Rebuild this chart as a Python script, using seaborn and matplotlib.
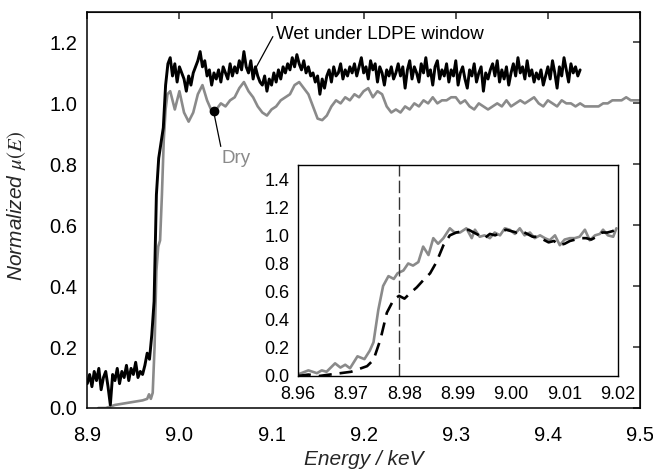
import numpy as np
import pandas as pd
import matplotlib
matplotlib.use("Agg")
import matplotlib.pyplot as plt
import seaborn as sns

# ---------------- data ----------------
# Wet under LDPE window (main panel), regular grid
wet_E0 = 8.900
wet_step = 0.0025
wet_mu = [
    0.08, 0.11, 0.07, 0.12, 0.09, 0.13, 0.06, 0.10, 0.12, 0.07,
    0.01, 0.11, 0.09, 0.13, 0.08, 0.12, 0.10, 0.14, 0.09, 0.13,
    0.11, 0.15, 0.10, 0.12, 0.11, 0.14, 0.18, 0.16,
    0.24, 0.35, 0.70, 0.82, 0.87, 0.92, 1.06, 1.13,
    1.15, 1.09, 1.13, 1.07, 1.12, 1.10, 1.08, 1.04, 1.09, 1.06, 1.10, 1.12, 1.14, 1.17, 1.12, 1.14, 1.09, 1.11, 1.06, 1.10,
    1.08, 1.11, 1.07, 1.12, 1.10, 1.08, 1.13, 1.09, 1.12, 1.10, 1.14, 1.11, 1.17, 1.12, 1.10, 1.14, 1.08, 1.12, 1.09, 1.07,
    1.06, 1.09, 1.04, 1.08, 1.06, 1.10, 1.07, 1.11, 1.08, 1.12, 1.10, 1.13, 1.11, 1.15, 1.12, 1.16, 1.13, 1.11, 1.14, 1.10,
    1.12, 1.09, 1.10, 1.07, 1.09, 1.03, 1.08, 1.05, 1.09, 1.11, 1.07, 1.12, 1.09, 1.10, 1.13, 1.08, 1.11, 1.09, 1.12, 1.10,
    1.13, 1.09, 1.12, 1.15, 1.10, 1.12, 1.08, 1.14, 1.11, 1.13, 1.07, 1.12, 1.10, 1.06, 1.11, 1.09, 1.12, 1.08, 1.10, 1.13,
    1.09, 1.12, 1.05, 1.11, 1.14, 1.08, 1.12, 1.10, 1.07, 1.13, 1.10, 1.15, 1.09, 1.11, 1.06, 1.12, 1.14, 1.08, 1.11, 1.09,
    1.13, 1.07, 1.11, 1.09, 1.14, 1.06, 1.10, 1.12, 1.08, 1.05, 1.11, 1.09, 1.13, 1.07, 1.10, 1.12, 1.04, 1.10, 1.08, 1.11,
    1.13, 1.09, 1.14, 1.07, 1.11, 1.08, 1.12, 1.06, 1.10, 1.13, 1.09, 1.15, 1.10, 1.12, 1.08, 1.14, 1.09, 1.11, 1.07, 1.10,
    1.08, 1.11, 1.06, 1.09, 1.12, 1.08, 1.14, 1.10, 1.05, 1.12, 1.09, 1.15, 1.11, 1.07, 1.13, 1.10, 1.12, 1.09, 1.11,
]

# Dry (main panel): edge region at explicit energies, then regular grid
dry_edge_E = [8.912, 8.920, 8.930, 8.940, 8.950, 8.960, 8.965, 8.967, 8.969, 8.971,
              8.973, 8.975, 8.977, 8.979, 8.981, 8.983, 8.985, 8.987]
dry_edge_mu = [0.00, 0.00, 0.01, 0.015, 0.02, 0.025, 0.03, 0.045, 0.03, 0.05,
               0.20, 0.45, 0.53, 0.55, 0.70, 0.88, 0.98, 1.03]
dry_post_E0 = 8.990
dry_post_step = 0.005
dry_post_mu = [
    1.04, 0.98, 1.04, 0.97, 0.94, 0.97, 1.03, 1.06, 1.01, 0.975,
    0.98, 1.00, 0.99, 1.01, 1.02, 1.05, 1.07, 1.04, 1.02, 0.99,
    0.97, 0.96, 0.98, 0.99, 1.01, 1.02, 1.03, 1.06, 1.07, 1.05,
    1.03, 0.99, 0.95, 0.945, 0.96, 0.99, 1.01, 1.00, 1.02, 1.01,
    1.03, 1.02, 1.04, 1.05, 1.02, 1.04, 1.03, 0.99, 0.97, 0.98,
    0.97, 0.99, 0.98, 1.00, 0.99, 1.01, 1.00, 1.02, 1.00, 1.01,
    1.01, 1.02, 1.02, 1.00, 1.01, 0.99, 0.98, 1.00, 0.99, 0.98,
    0.99, 1.00, 0.99, 1.01, 0.99, 1.00, 1.01, 1.00, 1.01, 1.02,
    1.00, 0.99, 1.01, 1.00, 0.99, 1.01, 1.00, 1.00, 0.99, 1.00,
    0.99, 0.99, 0.99, 0.99, 1.00, 1.00, 1.01, 1.01, 1.01, 1.02,
    1.01, 1.01, 1.01,
]

# Inset: Dry (solid grey)
inset_dry_E = [8.9600, 8.9620, 8.9636, 8.9645, 8.9654, 8.9670, 8.9680, 8.9689, 8.9698, 8.9712,
               8.9725, 8.9735, 8.9742, 8.9751, 8.9760, 8.9770, 8.9780, 8.9787, 8.9798, 8.9807,
               8.9816, 8.9826, 8.9835, 8.9845, 8.9854, 8.9863, 8.9873, 8.9885, 8.9894, 8.9904,
               8.9916, 8.9926, 8.9932, 8.9941, 8.9950, 8.9960, 8.9969, 8.9979, 8.9988, 8.9997,
               9.0007, 9.0016, 9.0025, 9.0035, 9.0044, 9.0054, 9.0063, 9.0072, 9.0082, 9.0091,
               9.0100, 9.0110, 9.0119, 9.0128, 9.0138, 9.0147, 9.0157, 9.0166, 9.0172, 9.0181,
               9.0191, 9.0197]
inset_dry_mu = [0.01, 0.04, 0.02, 0.04, 0.03, 0.09, 0.06, 0.08, 0.055, 0.14,
                0.12, 0.18, 0.24, 0.47, 0.64, 0.71, 0.69, 0.73, 0.75, 0.80,
                0.785, 0.81, 0.92, 0.86, 0.98, 0.94, 0.98, 1.05, 1.02, 1.02,
                1.05, 0.98, 1.04, 0.99, 1.00, 0.98, 1.02, 1.00, 1.05, 1.04,
                1.01, 1.05, 1.00, 1.02, 0.98, 1.00, 0.98, 0.965, 1.00, 0.93,
                0.97, 0.98, 0.98, 0.99, 1.04, 0.965, 1.00, 1.01, 1.04, 1.00,
                0.99, 1.05]

# Inset: Wet (dashed black)
inset_wet_E = [8.9600, 8.9620, 8.9640, 8.9660, 8.9680, 8.9700, 8.9715, 8.9730, 8.9742, 8.9755,
               8.9767, 8.9780, 8.9790, 8.9800, 8.9811, 8.9823, 8.9835, 8.9848, 8.9860, 8.9873,
               8.9885, 8.9897, 8.9910, 8.9920, 8.9930, 8.9940, 8.9950, 8.9960, 8.9970, 8.9980,
               8.9990, 9.0000, 9.0010, 9.0020, 9.0030, 9.0040, 9.0050, 9.0060, 9.0070, 9.0080,
               9.0090, 9.0100, 9.0110, 9.0120, 9.0130, 9.0140, 9.0150, 9.0160, 9.0170, 9.0180,
               9.0190, 9.0200]
inset_wet_mu = [0.00, 0.01, 0.00, 0.01, 0.02, 0.03, 0.05, 0.07, 0.115, 0.26,
                0.45, 0.545, 0.57, 0.55, 0.59, 0.63, 0.68, 0.73, 0.81, 0.93,
                1.00, 1.02, 1.03, 1.04, 1.02, 1.00, 0.98, 1.01, 1.00, 1.02,
                1.04, 1.03, 1.02, 1.03, 1.01, 0.99, 0.99, 0.97, 0.95, 0.96,
                0.93, 0.94, 0.96, 0.97, 0.98, 0.98, 0.97, 0.99, 1.02, 1.02,
                1.03, 1.05]

edge_marker_E = 8.979
dry_point = (9.037, 0.975)

main_xticks = [8.9, 9.0, 9.1, 9.2, 9.3, 9.4, 9.5]
main_yticks = [0.0, 0.2, 0.4, 0.6, 0.8, 1.0, 1.2]
inset_xticks = [8.96, 8.97, 8.98, 8.99, 9.00, 9.01, 9.02]
inset_yticks = [0.0, 0.2, 0.4, 0.6, 0.8, 1.0, 1.2, 1.4]

# ---------------- build tables ----------------
wet_df = pd.DataFrame({"E": wet_E0 + wet_step * np.arange(len(wet_mu)), "mu": wet_mu})
dry_df = pd.DataFrame({
    "E": np.concatenate([dry_edge_E, dry_post_E0 + dry_post_step * np.arange(len(dry_post_mu))]),
    "mu": np.concatenate([dry_edge_mu, dry_post_mu]),
})
inset_dry_df = pd.DataFrame({"E": inset_dry_E, "mu": inset_dry_mu})
inset_wet_df = pd.DataFrame({"E": inset_wet_E, "mu": inset_wet_mu})

# ---------------- style ----------------
sns.set_style("white")
plt.rcParams["font.family"] = ["Liberation Sans", "DejaVu Sans"]
plt.rcParams["mathtext.fontset"] = "stix"

GREY = "#8a8a8a"

fig = plt.figure(figsize=(6.53, 4.72), dpi=100)
ax = fig.add_axes([0.1337, 0.1356, 0.8464, 0.839])

sns.lineplot(data=dry_df, x="E", y="mu", ax=ax, color=GREY, linewidth=1.9,
             estimator=None, sort=False)
sns.lineplot(data=wet_df, x="E", y="mu", ax=ax, color="black", linewidth=2.1,
             estimator=None, sort=False)

ax.set_xlim(8.9, 9.5)
ax.set_ylim(0.0, 1.3)
ax.set_xticks(main_xticks)
ax.set_yticks(main_yticks)
ax.set_xticklabels([f"{v:.1f}" for v in main_xticks])
ax.set_yticklabels([f"{v:.1f}" for v in main_yticks])
ax.tick_params(axis="both", direction="out", length=5, width=1.1,
               labelsize=14.5, colors="black")
ax.tick_params(axis="x", pad=8)
ax.tick_params(axis="y", pad=2.5)
for s in ax.spines.values():
    s.set_linewidth(1.1)
    s.set_color("black")

sec_x = ax.secondary_xaxis("top")
sec_x.set_xticks(main_xticks)
sec_x.tick_params(direction="in", length=5, width=1.1, labeltop=False)
sec_y = ax.secondary_yaxis("right")
sec_y.set_yticks(main_yticks)
sec_y.tick_params(direction="in", length=5, width=1.1, labelright=False)

ax.set_xlabel("Energy / keV", fontsize=15, style="italic")
ax.set_ylabel("Normalized $\\mu(E)$", fontsize=15, style="italic")
ax.xaxis.set_label_coords(0.5, -0.106)
ax.yaxis.set_label_coords(-0.108, 0.51)

# annotations
ax.annotate("Wet under LDPE window", xy=(9.080, 1.10), xytext=(9.105, 1.225),
            fontsize=13.5, color="black", va="center", ha="left",
            arrowprops=dict(arrowstyle="-", color="black", lw=0.9,
                            shrinkA=0, shrinkB=0, relpos=(0.0, 0.75)))
ax.plot([dry_point[0]], [dry_point[1]], "o", color="black", markersize=6)
ax.annotate("Dry", xy=dry_point, xytext=(9.046, 0.82),
            fontsize=13.5, color=GREY, va="center", ha="left",
            arrowprops=dict(arrowstyle="-", color="black", lw=0.9,
                            shrinkA=0, shrinkB=0, relpos=(0.0, 0.9)))

# ---------------- inset ----------------
axi = fig.add_axes([0.4559, 0.2034, 0.4905, 0.447])
sns.lineplot(data=inset_dry_df, x="E", y="mu", ax=axi, color=GREY, linewidth=1.9,
             estimator=None, sort=False)
sns.lineplot(data=inset_wet_df, x="E", y="mu", ax=axi, color="black", linewidth=1.9,
             estimator=None, sort=False)
axi.lines[-1].set_dashes([5, 3])
axi.axvline(edge_marker_E, color="#333333", linewidth=1.0, dashes=[9, 3])

axi.set_xlim(8.96, 9.02)
axi.set_ylim(0.0, 1.5)
axi.set_xticks(inset_xticks)
axi.set_yticks(inset_yticks)
axi.set_xticklabels([f"{v:.2f}" for v in inset_xticks])
axi.set_yticklabels([f"{v:.1f}" for v in inset_yticks])
axi.tick_params(axis="both", direction="out", length=4, width=1.0,
                labelsize=13, colors="black")
axi.tick_params(axis="x", pad=3)
axi.tick_params(axis="y", pad=2)
axi.set_xlabel("")
axi.set_ylabel("")
for s in axi.spines.values():
    s.set_linewidth(1.0)
    s.set_color("black")

fig.savefig("out.png", dpi=100)
